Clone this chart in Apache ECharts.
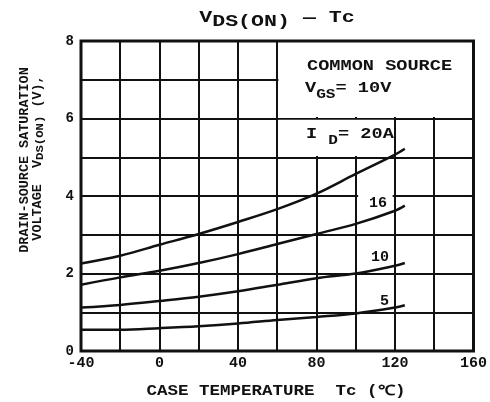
<!DOCTYPE html>
<html>
<head>
<meta charset="utf-8">
<script src="https://cdn.jsdelivr.net/npm/echarts@6.0.0/dist/echarts.min.js"></script>
<style>
  html, body { margin: 0; padding: 0; background: #fff; }
  #chart { width: 490px; height: 402px; }
</style>
</head>
<body>
<div id="chart"></div>
<script>
// 壳温 Tc (℃)
var temps = [-40, -20, 0, 20, 40, 60, 80, 100, 120, 125];
// VDS(ON) (V) for each drain current
var id20 = [2.26, 2.46, 2.74, 3.02, 3.33, 3.66, 4.06, 4.57, 5.07, 5.22];
var id16 = [1.71, 1.90, 2.07, 2.27, 2.50, 2.76, 3.02, 3.28, 3.62, 3.75];
var id10 = [1.12, 1.19, 1.29, 1.40, 1.54, 1.71, 1.88, 2.00, 2.20, 2.27];
var id5  = [0.55, 0.55, 0.59, 0.64, 0.71, 0.80, 0.88, 0.97, 1.12, 1.18];
var seriesNames = ['20A', '16A', '10A', '5A'];

var FONT = '"Liberation Mono", "DejaVu Sans Mono", monospace';
var INK = '#111';

function pairs(ys) {
    return temps.map(function (t, i) { return [t, ys[i]]; });
}

function curve(name, ys, extra) {
    var s = {
        name: name,
        type: 'line',
        smooth: 0.35,
        symbol: 'none',
        silent: true,
        lineStyle: { color: INK, width: 2.5 },
        data: pairs(ys)
    };
    if (extra) s.markArea = extra;
    return s;
}

// 白底区域（遮住网格线）
var blanks = {
    silent: true,
    itemStyle: { color: '#fff', borderWidth: 0 },
    label: { show: false },
    data: [
        [{ coord: [60.6, 6.04] }, { coord: [160, 8] }],
        [{ coord: [60.6, 5.03] }, { coord: [119.4, 5.97] }],
        [{ coord: [101.2, 3.72] }, { coord: [118.8, 4.2] }]
    ]
};

var chart = echarts.init(document.getElementById('chart'));
var option = {
    backgroundColor: '#fff',
    animation: false,
    grid: {
        left: 81, right: 13, top: 41, bottom: 51,
        show: true, borderColor: INK, borderWidth: 3, z: 10
    },
    xAxis: {
        type: 'value',
        min: -40, max: 160, interval: 40,
        axisLine: { show: false },
        axisTick: { show: false },
        minorTick: { show: false, splitNumber: 2 },
        splitLine: { show: true, lineStyle: { color: INK, width: 2 } },
        minorSplitLine: { show: true, lineStyle: { color: INK, width: 2 } },
        axisLabel: { color: INK, fontFamily: FONT, fontWeight: 'bold', fontSize: 15, margin: 5 }
    },
    yAxis: {
        type: 'value',
        min: 0, max: 8, interval: 2,
        axisLine: { show: false },
        axisTick: { show: false },
        minorTick: { show: false, splitNumber: 2 },
        splitLine: { show: true, lineStyle: { color: INK, width: 2 } },
        minorSplitLine: { show: true, lineStyle: { color: INK, width: 2 } },
        axisLabel: { color: INK, fontFamily: FONT, fontWeight: 'bold', fontSize: 14, margin: 7 }
    },
    series: [
        curve(seriesNames[0], id20, blanks),
        curve(seriesNames[1], id16),
        curve(seriesNames[2], id10),
        curve(seriesNames[3], id5)
    ],
    graphic: [
        {   // 标题
            type: 'text', x: 277, y: 20, z: 20, scaleX: 1.35,
            style: {
                text: '{v|V}{s|DS(ON)}{v| — Tc}',
                align: 'center', verticalAlign: 'middle', fill: INK,
                rich: {
                    v: { fontFamily: FONT, fontWeight: 'bold', fontSize: 16, lineHeight: 16, padding: [0, 0, 4, 0], fill: INK },
                    s: { fontFamily: FONT, fontWeight: 'bold', fontSize: 16, lineHeight: 16, padding: [4, 0, 0, 0], fill: INK }
                }
            }
        },
        {   // y 轴名称 第一行
            type: 'text', x: 25, y: 160, z: 20, rotation: Math.PI / 2, scaleX: 1.12,
            style: {
                text: 'DRAIN-SOURCE SATURATION',
                align: 'center', verticalAlign: 'middle', fill: INK,
                font: 'bold 12px ' + FONT
            }
        },
        {   // y 轴名称 第二行
            type: 'text', x: 39, y: 158, z: 20, rotation: Math.PI / 2, scaleX: 1.12,
            style: {
                text: '{a|VOLTAGE  V}{s|DS(ON)}{a| (V),}',
                align: 'center', verticalAlign: 'middle', fill: INK,
                rich: {
                    a: { fontFamily: FONT, fontWeight: 'bold', fontSize: 12, lineHeight: 12, padding: [0, 0, 3, 0], fill: INK },
                    s: { fontFamily: FONT, fontWeight: 'bold', fontSize: 11, lineHeight: 12, padding: [3, 0, 0, 0], fill: INK }
                }
            }
        },
        {   // x 轴名称
            type: 'text', x: 276, y: 391, z: 20, scaleX: 1.25,
            style: {
                text: 'CASE TEMPERATURE  Tc (℃)',
                align: 'center', verticalAlign: 'middle', fill: INK,
                font: 'bold 14px ' + FONT
            }
        },
        {
            type: 'text', x: 307, y: 66, z: 20, scaleX: 1.24,
            style: {
                text: 'COMMON SOURCE',
                align: 'left', verticalAlign: 'middle', fill: INK,
                font: 'bold 15px ' + FONT
            }
        },
        {
            type: 'text', x: 305, y: 91, z: 20, scaleX: 1.24,
            style: {
                text: '{a|V}{s|GS}{a|= 10V}',
                align: 'left', verticalAlign: 'middle', fill: INK,
                rich: {
                    a: { fontFamily: FONT, fontWeight: 'bold', fontSize: 15, lineHeight: 15, padding: [0, 0, 5, 0], fill: INK },
                    s: { fontFamily: FONT, fontWeight: 'bold', fontSize: 13, lineHeight: 13, padding: [7, 0, 0, 0], fill: INK }
                }
            }
        },
        {
            type: 'text', x: 306, y: 137, z: 20, scaleX: 1.24,
            style: {
                text: '{a|I }{s|D}{a|= 20A}',
                align: 'left', verticalAlign: 'middle', fill: INK,
                rich: {
                    a: { fontFamily: FONT, fontWeight: 'bold', fontSize: 15, lineHeight: 15, padding: [0, 0, 5, 0], fill: INK },
                    s: { fontFamily: FONT, fontWeight: 'bold', fontSize: 13, lineHeight: 13, padding: [7, 0, 0, 0], fill: INK }
                }
            }
        },
        {
            type: 'text', x: 369, y: 203, z: 20,
            style: { text: '16', align: 'left', verticalAlign: 'middle', fill: INK, font: 'bold 15px ' + FONT }
        },
        {
            type: 'text', x: 371, y: 257, z: 20,
            style: { text: '10', align: 'left', verticalAlign: 'middle', fill: INK, font: 'bold 15px ' + FONT }
        },
        {
            type: 'text', x: 380, y: 301, z: 20,
            style: { text: '5', align: 'left', verticalAlign: 'middle', fill: INK, font: 'bold 15px ' + FONT }
        }
    ]
};
chart.setOption(option);
</script>
</body>
</html>
